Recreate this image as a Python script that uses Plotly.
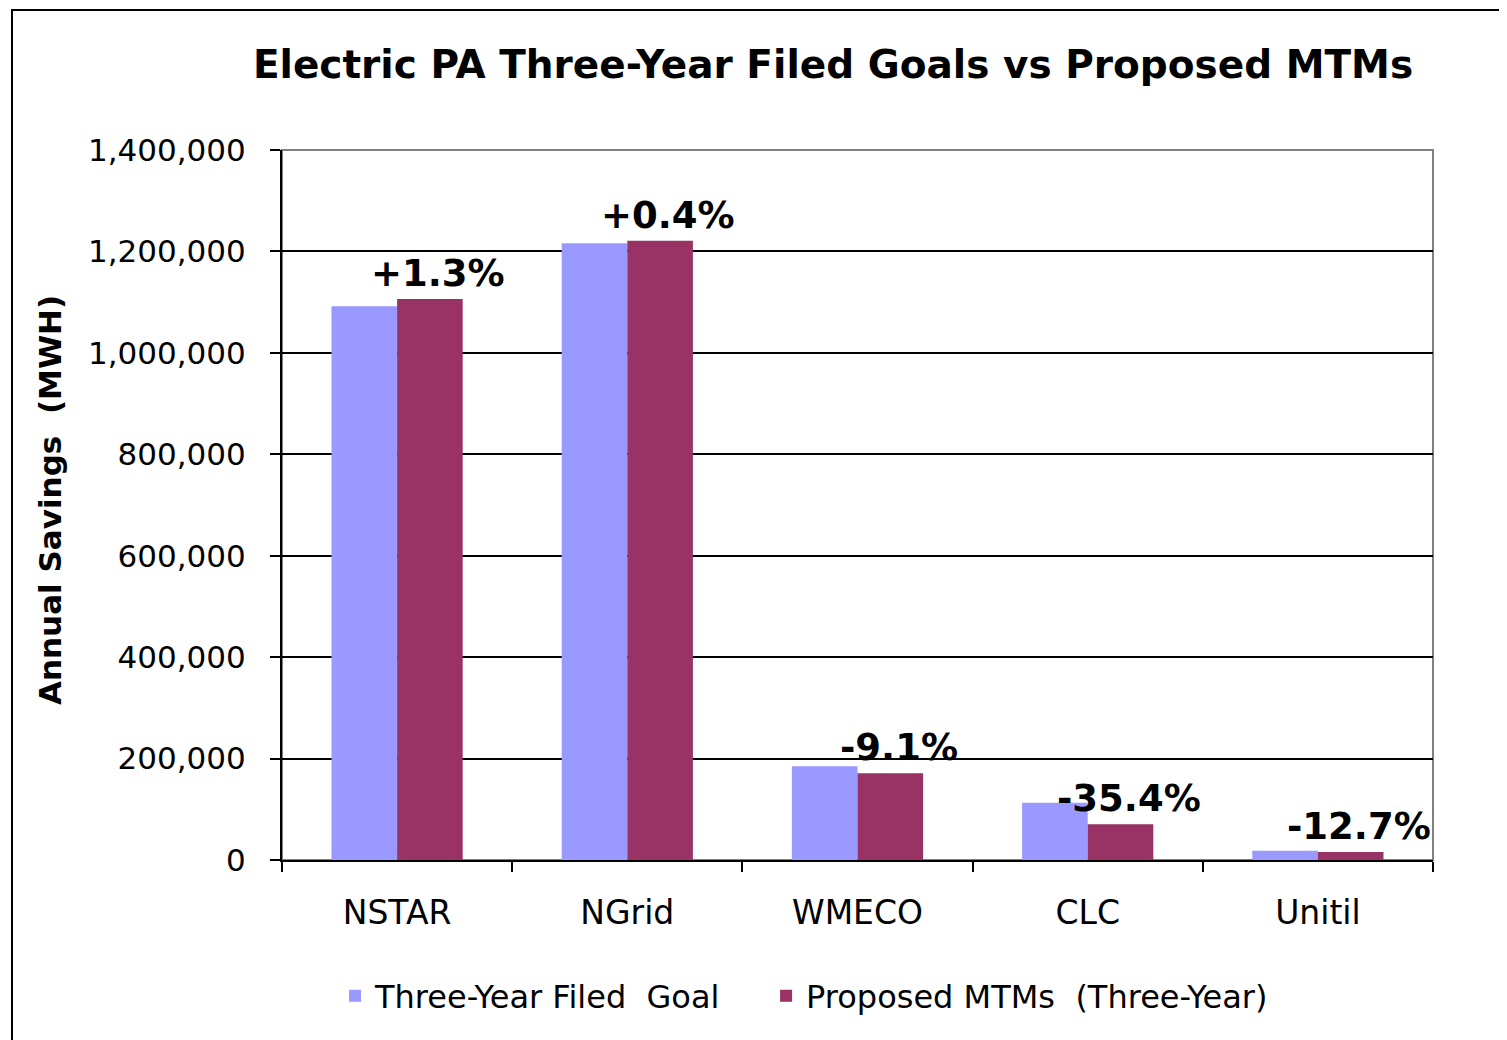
import plotly.graph_objects as go

categories = ["NSTAR", "NGrid", "WMECO", "CLC", "Unitil"]
filed_goal = [1092000, 1216000, 185000, 113000, 18000]
proposed_mtm = [1106000, 1221000, 171000, 70500, 16000]
pct_labels = ["+1.3%", "+0.4%", "-9.1%", "-35.4%", "-12.7%"]
tick_vals = [0, 200000, 400000, 600000, 800000, 1000000, 1200000, 1400000]
tick_text = ["0", "200,000", "400,000", "600,000", "800,000", "1,000,000", "1,200,000", "1,400,000"]

FONT = "Verdana, DejaVu Sans, sans-serif"
BLUE = "#9999FF"
RED = "#993366"

# page body has an 8px margin; plot area should land at x 282..1433, y 150..860
L, T, PW, PH = 274, 142, 1151, 710
PAD = "\u00a0" * 4

fig = go.Figure()
fig.add_trace(go.Bar(x=categories, y=filed_goal, name="Three-Year Filed  Goal" + PAD,
                     marker=dict(color=BLUE, line=dict(width=0))))
fig.add_trace(go.Bar(x=categories, y=proposed_mtm, name="Proposed MTMs  (Three-Year)",
                     marker=dict(color=RED, line=dict(width=0))))

annotations = []
for c, v, t in zip(categories, proposed_mtm, pct_labels):
    annotations.append(dict(x=c, y=v, text=t, showarrow=False, xref="x", yref="y",
                            xanchor="center", yanchor="bottom", xshift=41, yshift=2,
                            font=dict(family=FONT, size=37, color="black", weight="bold")))
annotations.append(dict(x=(50 - 282) / PW, y=0.507, xref="paper", yref="paper",
                        text="Annual Savings  (MWH)", textangle=-90, showarrow=False,
                        xanchor="center", yanchor="middle",
                        font=dict(family=FONT, size=31, color="black", weight="bold")))

fig.update_layout(
    width=1507, height=1040,
    margin=dict(l=L, r=1507 - L - PW, t=T, b=1040 - T - PH, autoexpand=False),
    paper_bgcolor="white", plot_bgcolor="white",
    barmode="group", bargap=0.43, bargroupgap=0,
    title=dict(text="<b>Electric PA Three-Year Filed Goals vs Proposed MTMs</b>",
               x=(833 - 282) / PW, xref="paper", xanchor="center",
               y=1 - 56 / 1040, yref="container", yanchor="middle",
               font=dict(family=FONT, size=39, color="black")),
    legend=dict(orientation="h", x=(804 - 282) / PW, xanchor="center",
                y=(860 - 996) / PH, yanchor="middle",
                font=dict(family=FONT, size=32, color="black"),
                itemsizing="constant", bgcolor="rgba(0,0,0,0)"),
    annotations=annotations,
    showlegend=True,
    shapes=[
        dict(type="rect", xref="paper", yref="paper", x0=0, x1=1, y0=0, y1=1,
             line=dict(color="#808080", width=2), layer="below"),
        dict(type="rect", xref="paper", yref="paper",
             x0=(12 - 282) / PW, x1=(1512 - 282) / PW,
             y0=(860 - 1048) / PH, y1=(860 - 10) / PH,
             line=dict(color="black", width=2), layer="below"),
    ],
)

fig.update_yaxes(range=[0, 1400000], tickvals=tick_vals, ticktext=tick_text,
                 showgrid=True, gridcolor="black", gridwidth=1.5,
                 showline=True, linecolor="black", linewidth=2,
                 ticks="outside", ticklen=10, tickcolor="black", tickwidth=2,
                 ticklabelstandoff=18, zeroline=False,
                 tickfont=dict(family=FONT, size=31, color="black"))
fig.update_xaxes(showline=True, linecolor="black", linewidth=2,
                 ticks="outside", ticklen=10, tickcolor="black", tickwidth=2,
                 tickson="boundaries", ticklabelstandoff=22, showgrid=False,
                 tickfont=dict(family=FONT, size=33, color="black"))

fig.write_html("out.html")
